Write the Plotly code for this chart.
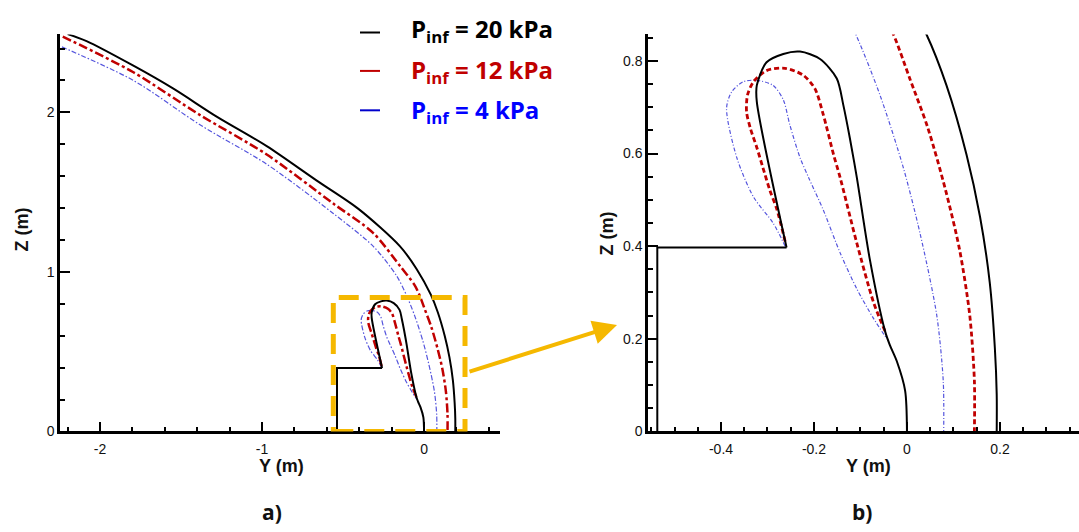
import plotly.graph_objects as go

W, H = 1079, 532

# ---------------- data (Y, Z in metres) ----------------
# outer shock lines
y_out_20 = [-2.20, -2.083, -1.794, -1.547, -1.280, -0.971, -0.662, -0.405, -0.148, -0.045, 0.042, 0.085, 0.128, 0.157, 0.178, 0.189, 0.193, 0.193]
z_out_20 = [2.49, 2.446, 2.292, 2.148, 1.973, 1.788, 1.572, 1.395, 1.160, 1.017, 0.857, 0.747, 0.598, 0.464, 0.322, 0.180, 0.080, 0.0]

y_out_12 = [-2.23, -1.794, -1.383, -0.971, -0.560, -0.313, -0.148, -0.060, -0.029, 0.006, 0.045, 0.083, 0.113, 0.135, 0.145, 0.145]
z_out_12 = [2.475, 2.251, 1.983, 1.736, 1.428, 1.243, 1.037, 0.92, 0.857, 0.762, 0.655, 0.521, 0.393, 0.251, 0.109, 0.0]

y_out_4 = [-2.235, -1.794, -1.383, -0.971, -0.560, -0.313, -0.169, -0.110, -0.058, -0.008, 0.028, 0.064, 0.078, 0.079]
z_out_4 = [2.41, 2.200, 1.922, 1.675, 1.366, 1.160, 0.975, 0.857, 0.726, 0.570, 0.428, 0.251, 0.109, 0.0]

# body wall and step
y_body = [-0.537, -0.537, -0.259]
z_body = [0.0, 0.397, 0.397]

# inner lines (separated region)
y_in_20 = [-0.259, -0.323, -0.323, -0.302, -0.266, -0.230, -0.187, -0.151, -0.137, -0.123, -0.108, -0.080, -0.047, -0.037, -0.022, -0.004, 0.0]
z_in_20 = [0.397, 0.712, 0.747, 0.797, 0.815, 0.820, 0.804, 0.762, 0.705, 0.634, 0.549, 0.372, 0.216, 0.187, 0.152, 0.088, 0.0]

y_in_12 = [-0.262, -0.280, -0.295, -0.310, -0.323, -0.337, -0.345, -0.343, -0.330, -0.302, -0.262, -0.223, -0.198, -0.180, -0.158, -0.144, -0.108, -0.072, -0.047]
z_in_12 = [0.410, 0.480, 0.521, 0.570, 0.613, 0.655, 0.690, 0.726, 0.755, 0.779, 0.784, 0.769, 0.740, 0.684, 0.598, 0.549, 0.407, 0.279, 0.216]

y_in_4 = [-0.262, -0.288, -0.330, -0.366, -0.388, -0.377, -0.352, -0.323, -0.288, -0.266, -0.252, -0.230, -0.212, -0.180, -0.144, -0.108, -0.072, -0.044]
z_in_4 = [0.400, 0.450, 0.506, 0.591, 0.698, 0.733, 0.755, 0.758, 0.747, 0.716, 0.662, 0.591, 0.549, 0.478, 0.386, 0.308, 0.244, 0.201]

# legend
legend_values = ["20", "12", "4"]
legend_text_colors = ["#000000", "#c00000", "#0000ff"]
legend_line_colors = ["#000000", "#c00000", "#0000cc"]

# ticks
ticks_a_x = [-2, -1, 0]
ticks_a_y = [0, 1, 2]
ticks_b_x = [-0.4, -0.2, 0, 0.2]
ticks_b_y = [0, 0.2, 0.4, 0.6, 0.8]

# ---------------- helpers ----------------
def px(x):
    return x / W

def py(y):
    return 1 - y / H

def lab(v):
    return "%g" % v

BLACK = "#000000"
RED = "#c00000"
BLUE = "#5555dd"

fig = go.Figure()

def add_set(xa, ya, red_dash, blue_dash, red_w):
    sm = 0.8
    fig.add_trace(go.Scatter(x=y_out_4 + [None] + y_in_4, y=z_out_4 + [None] + z_in_4,
                             mode="lines", xaxis=xa, yaxis=ya,
                             line=dict(color=BLUE, width=1.2, dash=blue_dash, shape="spline", smoothing=sm),
                             showlegend=False))
    fig.add_trace(go.Scatter(x=y_out_12 + [None] + y_in_12, y=z_out_12 + [None] + z_in_12,
                             mode="lines", xaxis=xa, yaxis=ya,
                             line=dict(color=RED, width=red_w, dash=red_dash, shape="spline", smoothing=sm),
                             showlegend=False))
    fig.add_trace(go.Scatter(x=y_out_20 + [None] + y_in_20, y=z_out_20 + [None] + z_in_20,
                             mode="lines", xaxis=xa, yaxis=ya,
                             line=dict(color=BLACK, width=2, shape="spline", smoothing=sm),
                             showlegend=False))
    fig.add_trace(go.Scatter(x=y_body, y=z_body, mode="lines", xaxis=xa, yaxis=ya,
                             line=dict(color=BLACK, width=2), showlegend=False))

add_set("x", "y", "9px,3px,3px,3px", "5px,2px,1.5px,2px", 2.5)
add_set("x2", "y2", "5px,3px", "4px,2px,1px,2px", 2.8)

tickfont = dict(family="Liberation Sans, Arial", size=14, color="#111111")

def axis_common():
    return dict(showline=True, linecolor="black", linewidth=2.5, showgrid=False, zeroline=False,
                ticks="inside", ticklen=10, tickwidth=2, tickcolor="black", tickfont=tickfont,
                tickmode="array", fixedrange=True)

minor_a = dict(tickmode="linear", tick0=0, dtick=0.2, ticks="inside", ticklen=5, tickwidth=1.5, tickcolor="black")
minor_b = dict(tickmode="linear", tick0=0, dtick=0.05, ticks="inside", ticklen=5, tickwidth=1.5, tickcolor="black")

fig.update_layout(
    width=W, height=H, margin=dict(l=0, r=0, t=0, b=0),
    paper_bgcolor="white", plot_bgcolor="white",
    xaxis=dict(**axis_common(), domain=[px(60), px(500)], range=[-2.247, 0.469], anchor="y",
               tickvals=ticks_a_x, ticktext=[lab(v) for v in ticks_a_x], minor=minor_a, ticklabelstandoff=3),
    yaxis=dict(**axis_common(), domain=[py(438), py(35)], range=[0, 2.488], anchor="x",
               tickvals=ticks_a_y, ticktext=[lab(v) for v in ticks_a_y], minor=minor_a),
    xaxis2=dict(**axis_common(), domain=[px(648), 1.0], range=[-0.557, 0.370], anchor="y2",
                tickvals=ticks_b_x, ticktext=[lab(v) for v in ticks_b_x], minor=minor_b, ticklabelstandoff=3),
    yaxis2=dict(**axis_common(), domain=[py(438), py(35)], range=[0, 0.857], anchor="x2",
                tickvals=ticks_b_y, ticktext=[lab(v) for v in ticks_b_y], minor=minor_b),
)

# zoom box in panel a
fig.add_shape(type="rect", xref="x", yref="y", x0=-0.56, x1=0.253, y0=0, y1=0.84,
              line=dict(color="#f5b800", width=5, dash="20px,11px"), layer="above")

annos = []
# arrow
annos.append(dict(x=px(617), y=py(330), xref="paper", yref="paper", ax=468 - 617, ay=377 - 330,
                  axref="pixel", ayref="pixel", text="", showarrow=True, arrowhead=2, arrowsize=1.2,
                  arrowwidth=4, arrowcolor="#f5b800", standoff=0))

title_font = dict(family="Liberation Sans, Arial", size=18, color="#111111")
annos.append(dict(x=px(281), y=py(473), xref="paper", yref="paper", text="<b>Y (m)</b>", showarrow=False,
                  font=title_font, xanchor="center", yanchor="middle"))
annos.append(dict(x=px(868), y=py(473), xref="paper", yref="paper", text="<b>Y (m)</b>", showarrow=False,
                  font=title_font, xanchor="center", yanchor="middle"))
annos.append(dict(x=px(22), y=py(233), xref="paper", yref="paper", text="<b>Z (m)</b>", showarrow=False,
                  font=title_font, xanchor="center", yanchor="middle", textangle=-90))
annos.append(dict(x=px(607), y=py(237), xref="paper", yref="paper", text="<b>Z (m)</b>", showarrow=False,
                  font=title_font, xanchor="center", yanchor="middle", textangle=-90))

panel_font = dict(family="Open Sans", size=21, color="#111111")
annos.append(dict(x=px(272), y=py(520), xref="paper", yref="paper", text="<b>a)</b>", showarrow=False,
                  font=panel_font, xanchor="center", yanchor="middle"))
annos.append(dict(x=px(862), y=py(520), xref="paper", yref="paper", text="<b>b)</b>", showarrow=False,
                  font=panel_font, xanchor="center", yanchor="middle"))

# legend
row_y = [30, 72, 113]
line_y = [33, 72, 112]
for v, tc, lc, ry, ly in zip(legend_values, legend_text_colors, legend_line_colors, row_y, line_y):
    annos.append(dict(x=px(409), y=py(ry), xref="paper", yref="paper",
                      text="<b>P<sub>inf</sub> = %s kPa</b>" % v, showarrow=False,
                      font=dict(family="Open Sans", size=24, color=tc), xanchor="left", yanchor="middle"))
    fig.add_shape(type="line", xref="paper", yref="paper", x0=px(360), x1=px(380), y0=py(ly), y1=py(ly),
                  line=dict(color=lc, width=2))

fig.update_layout(annotations=annos)

fig.write_html("out.html")
